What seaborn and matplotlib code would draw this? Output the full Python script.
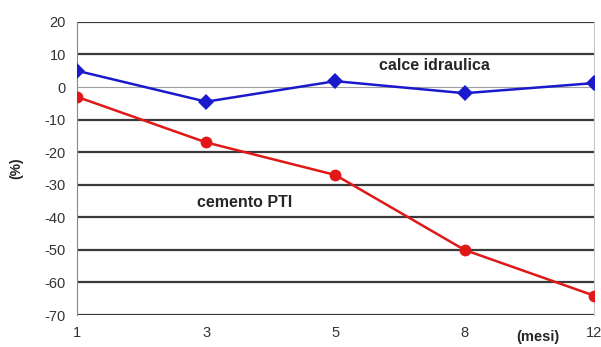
import pandas as pd
import matplotlib.pyplot as plt
import seaborn as sns

# months and % change for both mortars
mesi = ['1', '3', '5', '8', '12']
calce = [5, -4.5, 1.8, -1.9, 1.2]
cemento = [-3, -17, -27, -50, -64]

df = pd.DataFrame({
    'mesi': mesi * 2,
    'valore': calce + cemento,
    'serie': ['calce idraulica'] * 5 + ['cemento PTI'] * 5,
})
df['pos'] = df['mesi'].map({m: i for i, m in enumerate(mesi)})

sns.set_style('white')
plt.rcParams['font.family'] = ['Liberation Sans', 'DejaVu Sans']
plt.rcParams['axes.unicode_minus'] = False

fig = plt.figure(figsize=(6.01, 3.47), dpi=100)
ax = fig.add_axes([0.128, 0.092, 0.86, 0.845])

# horizontal grid like the original spreadsheet chart
for v in range(-70, 21, 10):
    if v == 0:
        ax.axhline(v, color='#a0a0a0', lw=0.8, zorder=1)
    else:
        ax.axhline(v, color='#3a3a3a', lw=1.6, zorder=1)

sns.lineplot(data=df, x='pos', y='valore', hue='serie', style='serie',
             palette={'calce idraulica': '#1a1acc', 'cemento PTI': '#e01818'},
             markers={'calce idraulica': 'D', 'cemento PTI': 'o'},
             dashes=False, markersize=8.5, markeredgewidth=0, linewidth=1.8,
             legend=False, ax=ax, zorder=3)

ax.set_xlim(0, len(mesi) - 1)
ax.set_ylim(-70, 20)
ax.set_xticks(range(len(mesi)))
ax.set_xticklabels(mesi)
ax.set_yticks(range(-70, 21, 10))
ax.tick_params(axis='both', labelsize=10.5, labelcolor='#333333', length=0, pad=8)
ax.set_xlabel('')
ax.set_ylabel('(%)', fontsize=10, fontweight='bold', labelpad=15)

for side in ['top', 'bottom']:
    ax.spines[side].set_visible(False)
ax.spines['left'].set_color('#888888')
ax.spines['left'].set_linewidth(0.8)
ax.spines['right'].set_color('#c8c8c8')
ax.spines['right'].set_linewidth(0.8)

ax.text(2.77, 6.5, 'calce idraulica', fontsize=11.5, fontweight='bold', ha='center', va='center')
ax.text(1.3, -35.5, 'cemento PTI', fontsize=11.5, fontweight='bold', ha='center', va='center')
ax.text(3.57, -76.8, '(mesi)', fontsize=10.5, fontweight='bold', ha='center', va='center',
        clip_on=False)

fig.savefig('out.png', dpi=100)
